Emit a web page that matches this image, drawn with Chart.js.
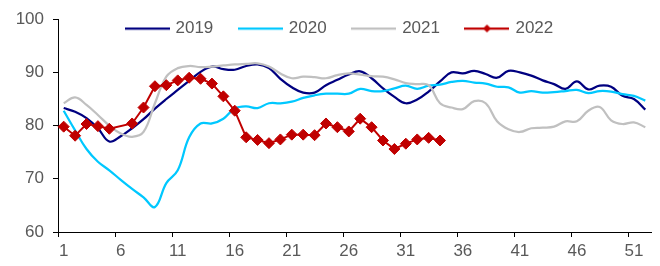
<!DOCTYPE html>
<html lang="en">
<head>
  <meta charset="UTF-8">
  <title>Weekly index 2019-2022</title>
  <script src="https://cdn.jsdelivr.net/npm/chart.js"></script>
  <style>
    * { margin: 0; padding: 0; box-sizing: border-box; }
    body { background: #fff; width: 660px; height: 266px; overflow: hidden; }
    #chart { display: block; }
  </style>
</head>
<body>
  <canvas id="chart" width="660" height="266"></canvas>
  <script>
    // --- data ---
    const weeks = Array.from({ length: 52 }, (_, i) => String(i + 1));
    const seriesNames = ['2019', '2020', '2021', '2022'];

    const y2019 = [83.3, 82.6, 81.4, 79.5, 77.0, 78.0, 79.5, 81.2, 83.2, 85.0,
                   86.7, 88.4, 90.1, 91.1, 90.6, 90.5, 91.2, 91.5, 90.8, 88.8,
                   87.2, 86.2, 86.2, 87.6, 88.6, 89.6, 90.2, 88.9, 87.0, 85.4,
                   84.2, 84.9, 86.4, 88.3, 90.0, 89.8, 90.3, 89.7, 89.0, 90.3,
                   90.0, 89.4, 88.5, 87.8, 86.9, 88.3, 86.8, 87.5, 87.3, 85.6,
                   85.0, 83.0];
    const y2020 = [82.8, 79.1, 75.6, 73.2, 71.6, 69.8, 68.1, 66.5, 64.7, 69.2,
                   71.6, 77.8, 80.4, 80.4, 81.3, 83.2, 83.6, 83.3, 84.2, 84.2,
                   84.5, 85.2, 85.7, 86.0, 86.0, 86.0, 86.9, 86.5, 86.5, 87.0,
                   87.5, 86.9, 87.5, 87.7, 88.2, 88.4, 88.1, 87.9, 87.3, 87.2,
                   86.2, 86.5, 86.2, 86.3, 86.5, 86.7, 86.1, 86.5, 86.4, 85.9,
                   85.6, 84.7];
    const y2021 = [84.2, 85.3, 83.9, 82.0, 80.0, 78.5, 77.9, 78.8, 84.2, 89.2,
                   90.8, 91.2, 91.0, 91.1, 91.3, 91.5, 91.6, 91.7, 91.1, 89.8,
                   88.9, 89.2, 89.1, 88.9, 89.5, 89.8, 89.6, 89.3, 89.2, 88.7,
                   88.0, 87.8, 87.6, 84.2, 83.4, 83.1, 84.6, 84.2, 80.8, 79.3,
                   78.8, 79.5, 79.6, 79.8, 80.8, 80.8, 82.8, 83.5, 81.0, 80.3,
                   80.6, 79.7];
    // week 6 has no marker in the reference
    const y2022 = [79.8, 78.1, 80.3, 79.9, 79.4, null, 80.4, 83.4, 87.4, 87.6,
                   88.5, 89.0, 88.8, 87.9, 85.5, 82.8, 77.8, 77.3, 76.7, 77.4,
                   78.3, 78.3, 78.2, 80.4, 79.7, 78.9, 81.3, 79.7, 77.2, 75.6,
                   76.6, 77.4, 77.7, 77.2];

    const yTicks = [60, 70, 80, 90, 100];

    const colors = ['#000080', '#00C8FF', '#C0C0C0', '#C00000'];
    const textColor = '#595959';
    const fontFamily = 'Arial, "Liberation Sans", sans-serif';

    // small line icons for the legend (line, plus a diamond for 2022)
    function makeIcon(color, withDiamond) {
      const c = document.createElement('canvas');
      c.width = 45;
      c.height = 14;
      const g = c.getContext('2d');
      g.strokeStyle = color;
      g.lineWidth = 2.25;
      g.beginPath();
      g.moveTo(0, 7);
      g.lineTo(45, 7);
      g.stroke();
      if (withDiamond) {
        g.fillStyle = color;
        g.beginPath();
        g.moveTo(22.5, 3);
        g.lineTo(26.5, 7);
        g.lineTo(22.5, 11);
        g.lineTo(18.5, 7);
        g.closePath();
        g.fill();
      }
      return c;
    }
    const legendIcons = colors.map((c, i) => makeIcon(c, i === 3));

    // legend sits over the plot in one row, like the reference
    const legendNudge = {
      id: 'legendNudge',
      beforeLayout(chart) {
        chart.legend.isHorizontal = () => true;
      },
      afterLayout(chart) {
        const lg = chart.legend;
        lg.left = 100;
        lg.top = -7;
      }
    };

    function lineSet(idx, data) {
      return {
        label: seriesNames[idx],
        data: data,
        borderColor: colors[idx],
        backgroundColor: colors[idx],
        borderWidth: 2.25,
        pointRadius: 0,
        tension: 0.4,
        order: 4 - idx
      };
    }

    const ctx = document.getElementById('chart').getContext('2d');
    new Chart(ctx, {
      type: 'line',
      data: {
        labels: weeks,
        datasets: [
          lineSet(0, y2019),
          lineSet(1, y2020),
          lineSet(2, y2021),
          {
            label: seriesNames[3],
            data: y2022,
            borderColor: colors[3],
            backgroundColor: colors[3],
            borderWidth: 2,
            pointStyle: 'rectRot',
            pointRadius: 5.5,
            pointBorderWidth: 1,
            tension: 0,
            spanGaps: true,
            order: 0
          }
        ]
      },
      options: {
        responsive: false,
        animation: false,
        devicePixelRatio: 1,
        layout: { padding: { left: 0, right: 9, top: 18, bottom: 0 } },
        plugins: {
          tooltip: { enabled: false },
          legend: {
            position: 'chartArea',
            align: 'start',
            labels: {
              usePointStyle: true,
              pointStyleWidth: 40,
              padding: 27,
              color: textColor,
              font: { family: fontFamily, size: 17 },
              sort: (a, b) => a.datasetIndex - b.datasetIndex,
              generateLabels(chart) {
                const items = Chart.defaults.plugins.legend.labels.generateLabels(chart);
                items.forEach(it => { it.pointStyle = legendIcons[it.datasetIndex]; });
                return items;
              }
            }
          }
        },
        scales: {
          x: {
            type: 'category',
            offset: true,
            grid: {
              offset: true,
              drawOnChartArea: false,
              drawTicks: true,
              tickLength: 5,
              color: c => (c.index % 5 === 0 ? '#000' : 'rgba(0,0,0,0)')
            },
            border: { display: true, color: '#000', width: 1 },
            ticks: {
              autoSkip: false,
              maxRotation: 0,
              padding: 4,
              color: textColor,
              font: { family: fontFamily, size: 17 },
              callback: function (v, i) { return i % 5 === 0 ? this.getLabelForValue(v) : ''; }
            },
            afterFit: s => { s.height = 34; }
          },
          y: {
            min: yTicks[0],
            max: yTicks[yTicks.length - 1],
            afterBuildTicks: s => { s.ticks = yTicks.map(v => ({ value: v })); },
            grid: {
              drawOnChartArea: false,
              drawTicks: true,
              tickLength: 5,
              color: '#000'
            },
            border: { display: true, color: '#000', width: 1 },
            ticks: {
              padding: 9,
              color: textColor,
              font: { family: fontFamily, size: 17 }
            },
            afterFit: s => { s.width = 58; }
          }
        }
      },
      plugins: [legendNudge]
    });
  </script>
</body>
</html>
